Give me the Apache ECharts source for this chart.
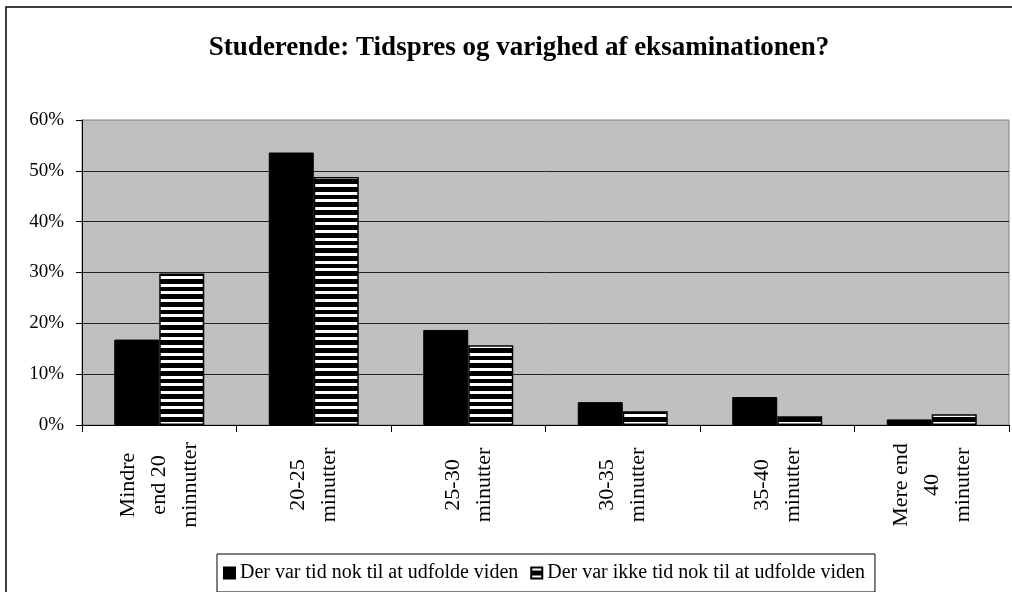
<!DOCTYPE html>
<html>
<head>
<meta charset="utf-8">
<script src="https://cdn.jsdelivr.net/npm/echarts@6/dist/echarts.min.js"></script>
<style>
  html, body { margin: 0; padding: 0; background: #fff; }
</style>
</head>
<body>
<div ref="chartRef" id="main" style="width:1012px;height:592px"></div>
<script>
const categories = [
  'Mindre\nend 20\nminnutter',
  '20-25\nminutter',
  '25-30\nminutter',
  '30-35\nminutter',
  '35-40\nminutter',
  'Mere end\n40\nminutter'
];
const seriesNames = [
  'Der var tid nok til at udfolde viden',
  'Der var ikke tid nok til at udfolde viden'
];
const tidNok = [16.8, 53.6, 18.7, 4.5, 5.5, 1.1];
const ikkeTidNok = [29.8, 48.8, 15.7, 2.7, 1.7, 2.1];
const yTicks = [0, 10, 20, 30, 40, 50, 60];

const serif = "'Liberation Serif', 'Times New Roman', serif";

// vandrette striber (hvid/sort) som mønster
function stripePattern() {
  const c = document.createElement('canvas');
  c.width = 4;
  c.height = 23;
  const ctx = c.getContext('2d');
  ctx.fillStyle = '#000';
  ctx.fillRect(0, 0, 4, 23);
  ctx.fillStyle = '#fff';
  ctx.fillRect(0, 0, 4, 3);
  ctx.fillRect(0, 8, 4, 3);
  ctx.fillRect(0, 15, 4, 3);
  return c;
}

const myChart = echarts.init(document.getElementById('main'), null, {renderer: 'canvas'});

const option = {
  backgroundColor: '#fff',
  animation: false,
  graphic: [
    {
      type: 'rect',
      shape: {x: 6, y: 7, width: 1200, height: 700},
      style: {fill: 'none', stroke: '#000', lineWidth: 1.5},
      silent: true,
      z: -1
    }
  ],
  title: {
    text: 'Studerende: Tidspres og varighed af eksaminationen?',
    left: 514,
    top: 30,
    textAlign: 'center',
    textStyle: {
      fontFamily: serif,
      fontWeight: 'bold',
      fontSize: 27,
      color: '#000'
    }
  },
  legend: {
    left: 217,
    top: 554,
    padding: [9, 10, 9, 6],
    itemWidth: 11,
    itemHeight: 11,
    itemGap: 12,
    borderColor: '#000',
    borderWidth: 1,
    backgroundColor: '#fff',
    icon: 'rect',
    textStyle: {
      fontFamily: serif,
      fontSize: 20,
      lineHeight: 19,
      color: '#000'
    },
    data: seriesNames
  },
  grid: {
    left: 82,
    top: 120,
    right: 3,
    bottom: 167,
    show: true,
    backgroundColor: '#c0c0c0',
    borderColor: '#808080',
    borderWidth: 1
  },
  xAxis: {
    type: 'category',
    data: categories,
    axisLine: {lineStyle: {color: '#000', width: 1}},
    axisTick: {show: true, length: 7, lineStyle: {color: '#000'}},
    axisLabel: {
      rotate: 90,
      align: 'center',
      verticalAlign: 'middle',
      margin: 60,
      interval: 0,
      fontFamily: serif,
      fontSize: 22,
      lineHeight: 31,
      color: '#000'
    }
  },
  yAxis: {
    type: 'value',
    min: yTicks[0],
    max: yTicks[yTicks.length - 1],
    interval: 10,
    axisLine: {show: true, lineStyle: {color: '#000', width: 1}},
    axisTick: {show: true, length: 6, lineStyle: {color: '#000'}},
    axisLabel: {
      formatter: '{value}%',
      margin: 18,
      fontFamily: serif,
      fontSize: 19,
      color: '#000'
    },
    splitLine: {
      show: true,
      showMaxLine: false,
      lineStyle: {color: '#222', width: 1}
    }
  },
  series: [
    {
      name: seriesNames[0],
      type: 'bar',
      barWidth: 45,
      barGap: '0%',
      itemStyle: {
        color: '#000',
        borderColor: '#000',
        borderWidth: 1
      },
      data: tidNok
    },
    {
      name: seriesNames[1],
      type: 'bar',
      barWidth: 45,
      barGap: '0%',
      itemStyle: {
        color: {image: stripePattern(), repeat: 'repeat'},
        borderColor: '#000',
        borderWidth: 1.5
      },
      data: ikkeTidNok
    }
  ]
};

option && myChart.setOption(option);
</script>
</body>
</html>
